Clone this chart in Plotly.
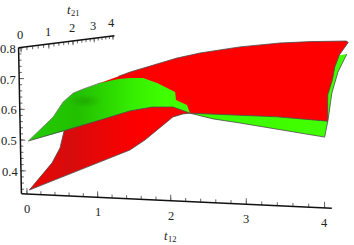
import numpy as np
import plotly.graph_objects as go

# surface edges, in chart units
# red surface
red_near_t12 = [0, 0.73, 1.433, 1.642, 1.947, 2.029, 2.166, 2.261, 3.406, 4.05]
red_near_z = [0.334, 0.407, 0.477, 0.5105, 0.570, 0.5865, 0.597, 0.600, 0.596, 0.587]
red_right_t21 = [0.1, 0.8, 1.2, 2.0, 3.8]
red_right_z = [0.665, 0.697, 0.732, 0.761, 0.785]
red_far_t12 = [4.01, 3.41, 2.885, 2.193, 1.489, 1.077, 0.225, 0]
red_far_z = [0.789, 0.785, 0.778, 0.760, 0.7325, 0.710, 0.648, 0.628]
red_left_t21 = [3.02, 1.337, 1.159, 0.837]
red_left_z = [0.621, 0.4835, 0.429, 0.389]

# green surface
green_near_t12 = [0, 0.515, 0.983, 1.445, 1.748, 2.034, 2.261]
green_near_z = [0.4945, 0.531, 0.5665, 0.602, 0.616, 0.618, 0.600]
green_back_t12 = [2.261, 2.568, 2.923, 4.01]
green_back_z = [0.600, 0.584, 0.5735, 0.538]
green_right_t21 = [0.49, 1.12, 2.16, 4.0]
green_right_z = [0.5755, 0.6465, 0.6967, 0.7365]
green_far_t12 = [3.22]
green_far_z = [0.701]
green_left_t21 = [0.913, 1.32, 1.754, 2.2, 3.03]
green_left_z = [0.546, 0.588, 0.610, 0.615, 0.621]
# where the green surface dips under the red one
cross_t12 = [2.026, 1.663, 1.497, 0.932, 0.458, 0.22, 0]
cross_t21 = [0.8, 1.6, 2.2, 3.2, 4, 4, 4]
cross_z = [0.603, 0.598, 0.612, 0.621, 0.6235, 0.6225, 0.617]
# darker fold on the green surface
fold_t12 = [-0.3, 0.1, 0.5, 0.1]
fold_z = [0.575, 0.612, 0.575, 0.538]

t12_labels = [0, 1, 2, 3, 4]
t21_labels = [0, 1, 2, 3, 4]
z_labels = [0.8, 0.7, 0.6, 0.5, 0.4]

RED_RIGHT_T12 = 4.05
GREEN_RIGHT_T12 = 4.01
FOLD_T21 = 2
AXIS_OFF = -0.08
Z_BOTTOM = 0.325
Z_TOP = 0.8


def project(t12, t21, z):
    # perspective fitted to the axes of the original 3D view
    t12, t21, z = [np.asarray(v, dtype=float) for v in (t12, t21, z)]
    w = 1 - 0.0162 * t12 + 0.075 * t21
    sx = (26.5 + 68.7 * t12 + 31.5 * t21 - 6 * (z - 0.8)) / w
    sy = (47.6 + 0.12 * t12 - 0.2 * t21 - 305.7 * (z - 0.8)) / w
    return sx, sy


def const(v, ref):
    return [v] * len(ref)


def edge_t12(t12, t21, z):
    return project(t12, const(t21, t12), z)


def edge_t21(t12, t21, z):
    return project(const(t12, t21), t21, z)


def join(*parts):
    return (np.concatenate([p[0] for p in parts]), np.concatenate([p[1] for p in parts]))


def segs(p0, p1):
    xs, ys = [], []
    for x0, y0, x1, y1 in zip(p0[0], p0[1], p1[0], p1[1]):
        xs += [x0, x1, None]
        ys += [y0, y1, None]
    return xs, ys


fig = go.Figure()


def fill(pts, stops, start, stop):
    fig.add_trace(go.Scatter(
        x=pts[0], y=pts[1], mode='none', fill='toself',
        fillgradient=dict(type='horizontal', colorscale=stops, start=start, stop=stop),
        hoverinfo='skip'))


def stroke(pts, color='#4a4a4a', width=0.8):
    fig.add_trace(go.Scatter(
        x=pts[0], y=pts[1], mode='lines', line=dict(color=color, width=width),
        connectgaps=False, hoverinfo='skip'))


red_near = edge_t12(red_near_t12, 0, red_near_z)
red_right = edge_t21(RED_RIGHT_T12, red_right_t21, red_right_z)
red_far = edge_t12(red_far_t12, 4, red_far_z)
red_left = edge_t21(0, red_left_t21, red_left_z)

green_near = edge_t12(green_near_t12, 0, green_near_z)
green_back = edge_t12(green_back_t12, 0, green_back_z)
green_right = edge_t21(GREEN_RIGHT_T12, green_right_t21, green_right_z)
green_far = edge_t12(green_far_t12, 4, green_far_z)
green_left = edge_t21(0, green_left_t21, green_left_z)
green_cross = project(cross_t12, cross_t21, cross_z)

# back part of the green surface, the red one goes over it
fill(join(green_back, green_right, green_far),
     [[0, '#3cfa00'], [1, '#42ff00']], 190, 347)
stroke(join(green_back, green_right))

red_start = edge_t12(red_near_t12[:1], 0, red_near_z[:1])
red_outline = join(red_near, red_right, red_far, red_left)
fill(red_outline,
     [[0, '#ee0404'], [0.12, '#d60c0c'], [0.32, '#fb0000'], [0.45, '#ff0000'], [1, '#ff0000']],
     30, 347)
stroke(join(red_near, red_right, red_far))
stroke(join(red_left, red_start))

# front part of the green surface
green_front = join(green_near, green_cross, (green_left[0][::-1], green_left[1][::-1]))
fill(green_front,
     [[0, '#22cc00'], [0.3, '#22c000'], [0.45, '#2ad200'], [0.65, '#36ee00'], [0.85, '#40ff00'], [1, '#40ff00']],
     29, 190)
fold = edge_t12(fold_t12, FOLD_T21, fold_z)
fig.add_trace(go.Scatter(
    x=fold[0], y=fold[1], mode='none', fill='toself',
    fillgradient=dict(type='radial', colorscale=[[0, 'rgba(20,110,0,0.3)'], [0.7, 'rgba(20,110,0,0)'], [1, 'rgba(20,110,0,0)']]),
    hoverinfo='skip'))
stroke(green_near)
stroke(join((green_near[0][:1], green_near[1][:1]), green_left), color='#777777')

# axes
tick_color = '#666666'
t12_minor = np.arange(0, 4.01, 0.2)
t21_minor = np.arange(0, 4.01, 0.2)
z_minor = np.arange(0.34, 0.801, 0.02)

stroke(segs(edge_t12(t12_minor, AXIS_OFF, const(Z_BOTTOM, t12_minor)),
            edge_t12(t12_minor, AXIS_OFF, const(Z_BOTTOM + 0.011, t12_minor))), tick_color, 1)
stroke(segs(edge_t12(t12_labels, AXIS_OFF, const(Z_BOTTOM, t12_labels)),
            edge_t12(t12_labels, AXIS_OFF, const(Z_BOTTOM + 0.019, t12_labels))), tick_color, 1)
stroke(segs(edge_t21(AXIS_OFF, t21_minor, const(Z_TOP, t21_minor)),
            edge_t21(AXIS_OFF, t21_minor, const(Z_TOP - 0.011, t21_minor))), tick_color, 1)
stroke(segs(edge_t21(AXIS_OFF, t21_labels, const(Z_TOP, t21_labels)),
            edge_t21(AXIS_OFF, t21_labels, const(Z_TOP - 0.016, t21_labels))), tick_color, 1)
z_base = project(const(AXIS_OFF, z_minor), const(AXIS_OFF, z_minor), z_minor)
z_tip = project(const(AXIS_OFF + 0.04, z_minor), const(AXIS_OFF, z_minor), z_minor)
stroke(segs(z_base, z_tip), tick_color, 1)
z_base_major = project(const(AXIS_OFF, z_labels), const(AXIS_OFF, z_labels), z_labels)
z_tip_major = project(const(AXIS_OFF + 0.07, z_labels), const(AXIS_OFF, z_labels), z_labels)
stroke(segs(z_base_major, z_tip_major), tick_color, 1)

stroke(project([AXIS_OFF, 4.09], [AXIS_OFF, AXIS_OFF], [Z_BOTTOM, Z_BOTTOM]), '#111111', 1.5)
stroke(project([AXIS_OFF, AXIS_OFF], [AXIS_OFF, AXIS_OFF], [Z_BOTTOM, Z_TOP]), '#111111', 1.5)
stroke(project([AXIS_OFF, AXIS_OFF], [AXIS_OFF, 4.08], [Z_TOP, Z_TOP]), '#111111', 1.5)


def label(x, y, text, xshift=0, yshift=0, size=12.5, style='normal'):
    fig.add_annotation(x=float(x), y=float(y), text=text, showarrow=False, borderpad=0,
                       font=dict(family='Liberation Serif', size=size, color='#222222', style=style),
                       xshift=xshift, yshift=yshift, xanchor='center', yanchor='middle')


for v, x, y in zip(t12_labels, *edge_t12(t12_labels, AXIS_OFF, const(Z_BOTTOM, t12_labels))):
    label(x, y, str(v), yshift=-15)
for v, x, y in zip(t21_labels, *edge_t21(AXIS_OFF, t21_labels, const(Z_TOP, t21_labels))):
    label(x, y, str(v), xshift=-1, yshift=12.5)
for v, x, y in zip(z_labels, *z_base_major):
    label(x, y, f'{v:.1f}', xshift=-11, yshift=-1)

x, y = edge_t21(AXIS_OFF, [2], [Z_TOP])
label(x[0], y[0], 't', xshift=-3.5, yshift=30.5, style='italic')
label(x[0], y[0], '21', xshift=2.5, yshift=28, size=8.5)
x, y = edge_t12([2], AXIS_OFF, [Z_BOTTOM])
label(x[0], y[0], 't', xshift=-5, yshift=-35.3, style='italic')
label(x[0], y[0], '12', xshift=2, yshift=-38.3, size=8.5)

fig.update_layout(
    width=354, height=245, margin=dict(l=0, r=0, t=0, b=0),
    showlegend=False, paper_bgcolor='white', plot_bgcolor='white',
    xaxis=dict(range=[0, 354], visible=False, fixedrange=True),
    yaxis=dict(range=[245, 0], visible=False, fixedrange=True),
)
fig.write_html("out.html", config={'displayModeBar': False}, post_script="document.body.style.margin='0';")
